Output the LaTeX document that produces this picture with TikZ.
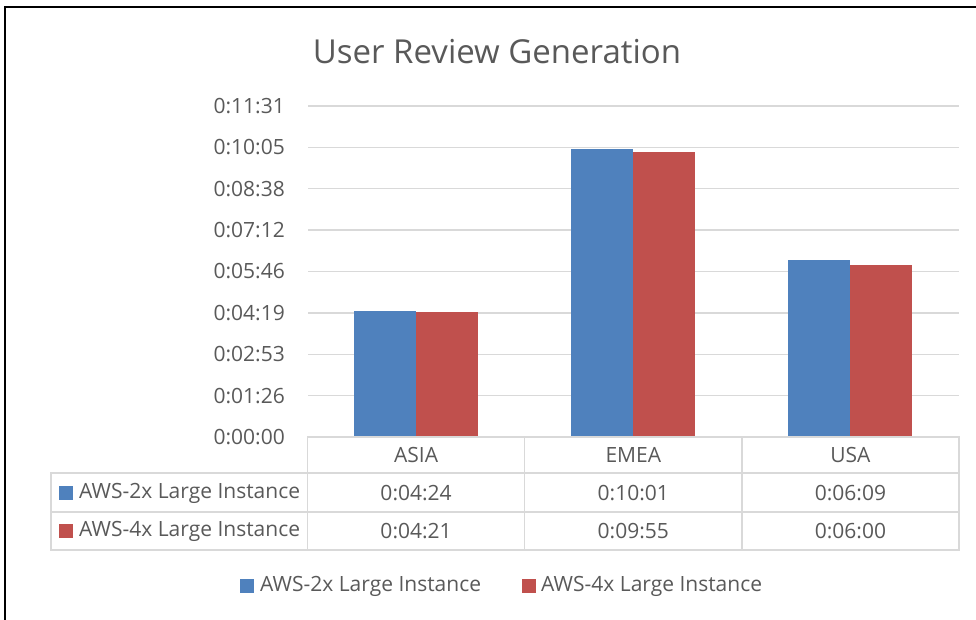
\documentclass[tikz,border=0pt]{standalone}
\usepackage{fontspec}
\setmainfont{Open Sans}
\definecolor{txtgray}{HTML}{595959}
\definecolor{gridgray}{HTML}{D9D9D9}
\definecolor{awsblue}{HTML}{4F81BD}
\definecolor{awsred}{HTML}{C0504D}
\tikzset{
  lbl/.style={text=txtgray,font=\fontsize{21}{25}\selectfont,inner sep=0pt},
  gridline/.style={draw=gridgray,line width=1.5pt},
  keybox/.style={inner sep=0pt,minimum size=14pt}
}
\begin{document}
\begin{tikzpicture}[x=1pt,y=-1pt]%
\useasboundingbox (0,0) rectangle (976,620);%
% frame
\draw[line width=2pt] (5,620) -- (5,7) -- (976,7);%
\node[text=txtgray,font=\fontsize{33}{38}\selectfont,inner sep=0pt] (title) at (497,52) {User Review Generation};%
% grid and axis labels
\foreach \i/\t in {1/0:01:26,2/0:02:53,3/0:04:19,4/0:05:46,5/0:07:12,6/0:08:38,7/0:10:05,8/0:11:31} {%
  \draw[gridline] (308,437-41.375*\i) -- (959,437-41.375*\i);%
  \node[lbl,anchor=east] (ylab\i) at (285,437-41.375*\i) {\t};%
}%
\node[lbl,anchor=east] (ylab0) at (285,437) {0:00:00};%
% bars (seconds)
\foreach \c/\a/\b [count=\k from 0] in {asia/264/261,emea/601/595,usa/369/360} {%
  \fill[awsblue] (416.1+217.17*\k-62,437) rectangle (416.1+217.17*\k,437-0.47888*\a);%
  \fill[awsred] (416.1+217.17*\k,437) rectangle (416.1+217.17*\k+62,437-0.47888*\b);%
}%
% data table
\draw[gridline] (307.5,473) -- (307.5,437) -- (959,437) -- (959,550) -- (51,550) -- (51,473) -- (959,473);%
\draw[gridline] (51,512) -- (959,512);%
\draw[gridline] (307.5,437) -- (307.5,550);%
\draw[gridline] (524.7,437) -- (524.7,550);%
\draw[gridline] (741.8,437) -- (741.8,550);%
\node[lbl] (asia) at (416.1,455) {ASIA};%
\node[lbl] (emea) at (633.3,455) {EMEA};%
\node[lbl] (usa) at (850.4,455) {USA};%
\node[keybox,fill=awsblue] (key2x) at (66,493) {};%
\node[lbl,anchor=west] (row2x) at (79,493) {AWS-2x Large Instance};%
\node[keybox,fill=awsred] (key4x) at (66,531) {};%
\node[lbl,anchor=west] (row4x) at (79,531) {AWS-4x Large Instance};%
\node[lbl] (asia2x) at (416.1,493) {0:04:24};%
\node[lbl] (emea2x) at (633.3,493) {0:10:01};%
\node[lbl] (usa2x) at (850.4,493) {0:06:09};%
\node[lbl] (asia4x) at (416.1,531) {0:04:21};%
\node[lbl] (emea4x) at (633.3,531) {0:09:55};%
\node[lbl] (usa4x) at (850.4,531) {0:06:00};%
% legend
\node[keybox,fill=awsblue] (leg2key) at (247,586) {};%
\node[lbl,anchor=west] (leg2x) at (260,586) {AWS-2x Large Instance};%
\node[keybox,fill=awsred] (leg4key) at (529,586) {};%
\node[lbl,anchor=west] (leg4x) at (541,586) {AWS-4x Large Instance};%
\end{tikzpicture}
\end{document}
